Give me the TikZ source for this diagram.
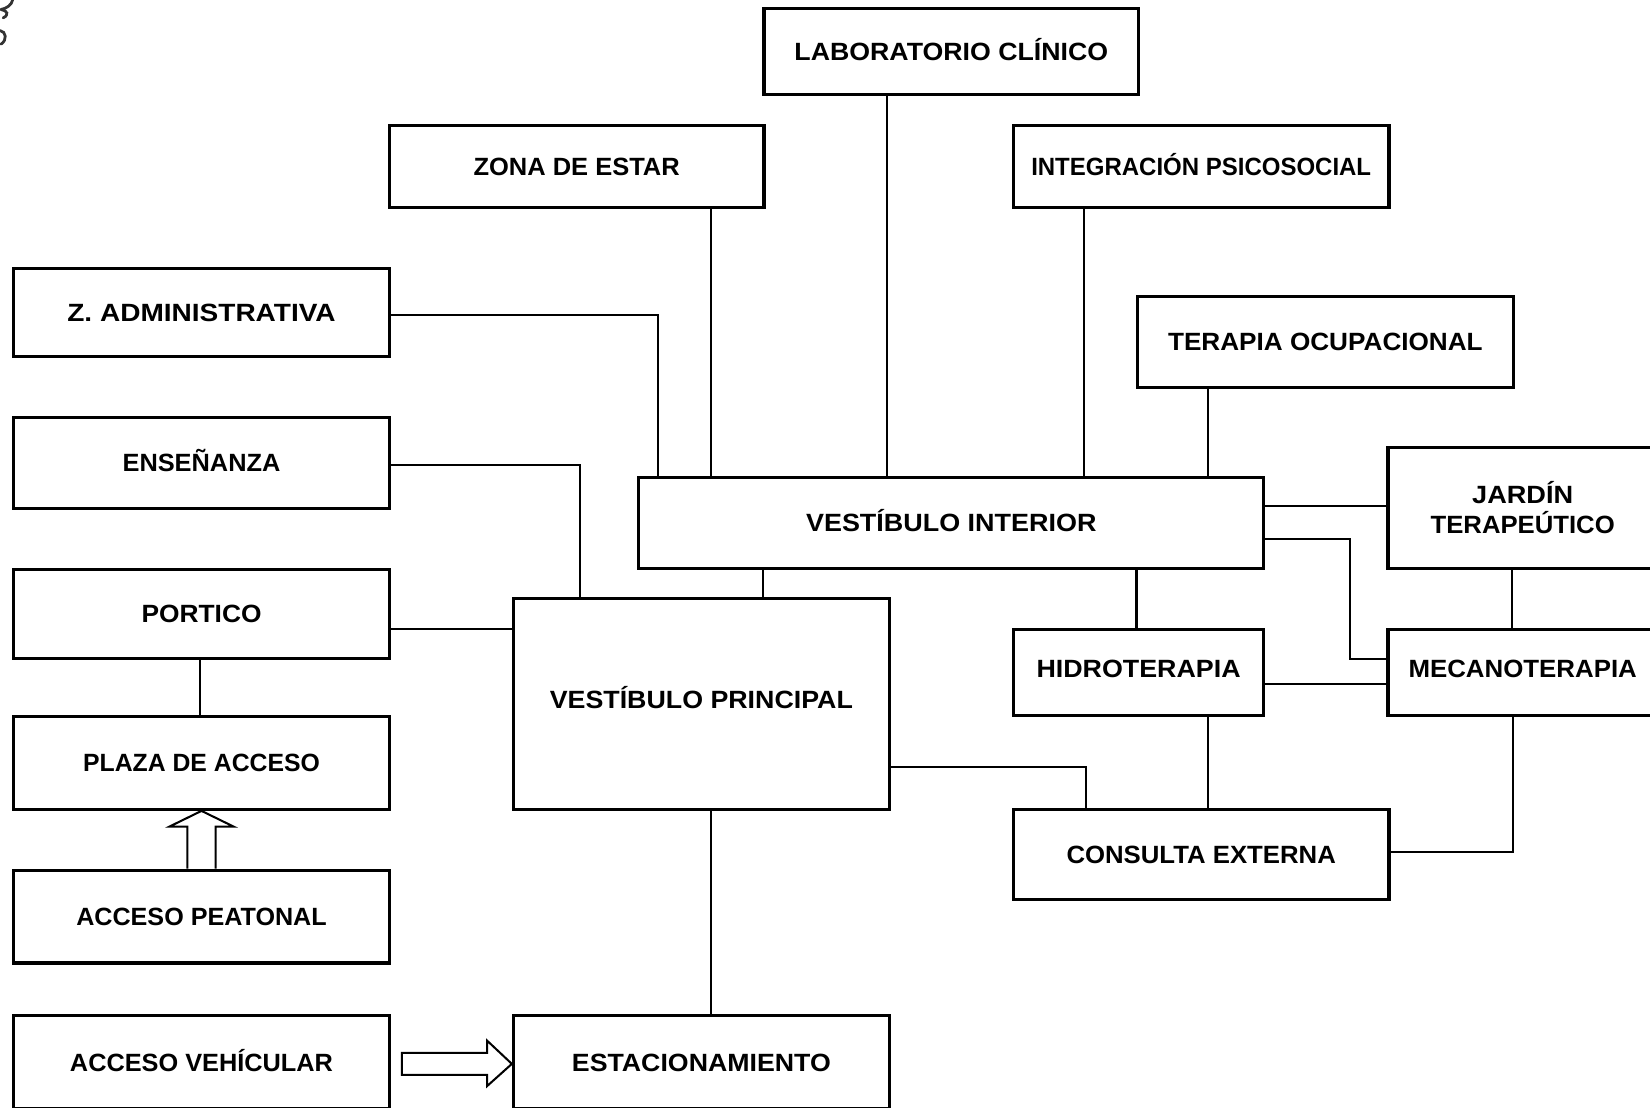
\documentclass[tikz,border=0pt]{standalone}
\usepackage{fontspec}
\setmainfont{Liberation Sans}
\usepackage{graphicx}
\newdimen\pxu \pxu=0.02cm
\newcommand\fw[2]{\resizebox{#1\pxu}{\height}{#2}}
\begin{document}
\begin{tikzpicture}[x=0.02cm,y=-0.02cm,
  box/.style={draw, line width=1.8pt, inner sep=0pt, text height=0.34cm, text depth=0pt,
    font=\fontsize{13.5}{16}\selectfont\bfseries},
  twoline/.style={draw, line width=1.8pt, inner sep=0pt, align=center,
    font=\fontsize{13.5}{16.4}\selectfont\bfseries},
  up4/.style={text depth=0.16cm},
  link/.style={line width=1.1pt},
  blockarrow/.style={line width=1.1pt, fill=white},
  scan/.style={line width=1.5pt, black!80, line cap=round}]
\useasboundingbox (0,0) rectangle (1568,1052);
\clip (0,0) rectangle (1568,1052);
% nodes
\node[box, minimum width=356\pxu, minimum height=82\pxu] (lab) at (904,49) {\fw{298}{LABORATORIO CLÍNICO}};
\node[box, minimum width=356\pxu, minimum height=78\pxu] (zona) at (548,158) {\fw{196}{ZONA DE ESTAR}};
\node[box, minimum width=357\pxu, minimum height=78\pxu] (integ) at (1141.5,158) {\fw{323}{INTEGRACIÓN PSICOSOCIAL}};
\node[box, minimum width=357\pxu, minimum height=84\pxu] (zadm) at (191.5,297) {\fw{255}{Z. ADMINISTRATIVA}};
\node[box, minimum width=357\pxu, minimum height=86\pxu] (tocup) at (1259.5,325) {\fw{299}{TERAPIA OCUPACIONAL}};
\node[box, minimum width=357\pxu, minimum height=86\pxu] (ens) at (191.5,440) {\fw{150}{ENSEÑANZA}};
\node[box, minimum width=594\pxu, minimum height=86\pxu] (vi) at (904,497) {\fw{276}{VESTÍBULO INTERIOR}};
\node[twoline, minimum width=256\pxu, minimum height=115\pxu] (jard) at (1447,482.5) {\fw{96}{JARDÍN}\\\fw{175}{TERAPEÚTICO}};
\node[box, minimum width=357\pxu, minimum height=85\pxu] (port) at (191.5,583.5) {\fw{114}{PORTICO}};
\node[box, up4, minimum width=238\pxu, minimum height=82\pxu] (hidro) at (1082,639) {\fw{194}{HIDROTERAPIA}};
\node[box, up4, minimum width=256\pxu, minimum height=82\pxu] (mec) at (1447,639) {\fw{217}{MECANOTERAPIA}};
\node[box, up4, minimum width=357\pxu, minimum height=200\pxu] (vp) at (666.5,669) {\fw{288}{VESTÍBULO PRINCIPAL}};
\node[box, minimum width=357\pxu, minimum height=88\pxu] (plaza) at (191.5,725) {\fw{225}{PLAZA DE ACCESO}};
\node[box, minimum width=357\pxu, minimum height=86\pxu] (cons) at (1141.5,812) {\fw{256}{CONSULTA EXTERNA}};
\node[box, minimum width=357\pxu, minimum height=88\pxu] (peat) at (191.5,871) {\fw{238}{ACCESO PEATONAL}};
\node[box, minimum width=357\pxu, minimum height=89\pxu] (veh) at (191.5,1009.5) {\fw{250}{ACCESO VEHÍCULAR}};
\node[box, minimum width=357\pxu, minimum height=89\pxu] (est) at (666.5,1009.5) {\fw{246}{ESTACIONAMIENTO}};
% connectors
\draw[link] (843,0 |- lab.south) -- (843,0 |- vi.north);
\draw[link] (676,0 |- zona.south) -- (676,0 |- vi.north);
\draw[link] (1030,0 |- integ.south) -- (1030,0 |- vi.north);
\draw[link] (1148,0 |- tocup.south) -- (1148,0 |- vi.north);
\draw[link] (zadm.east |- 0,299) -| (625,0 |- vi.north);
\draw[link] (ens.east |- 0,442) -| (551,0 |- vp.north);
\draw[link] (port.east |- 0,598) -- (vp.west |- 0,598);
\draw[link] (190,0 |- port.south) -- (190,0 |- plaza.north);
\draw[link] (676,0 |- vp.south) -- (676,0 |- est.north);
\draw[link] (725,0 |- vi.south) -- (725,0 |- vp.north);
\draw[link] (1080,0 |- vi.south) -- (1080,0 |- hidro.north);
\draw[link] (vi.east |- 0,481) -- (jard.west |- 0,481);
\draw[link] (vi.east |- 0,512) -| (1283,626) -- (mec.west |- 0,626);
\draw[link] (1437,0 |- jard.south) -- (1437,0 |- mec.north);
\draw[link] (hidro.east |- 0,650) -- (mec.west |- 0,650);
\draw[link] (1148,0 |- hidro.south) -- (1148,0 |- cons.north);
\draw[link] (1438,0 |- mec.south) |- (cons.east |- 0,810);
\draw[link] (vp.east |- 0,729) -| (1032,0 |- cons.north);
% block arrows
\draw[blockarrow] (178,0 |- peat.north) -- (178,785.5) -- (161,785.5) -- (191.5,0 |- plaza.south)
  -- (222,785.5) -- (205,785.5) -- (205,0 |- peat.north);
\draw[blockarrow] (463,1000.5) -- (382,1000.5) -- (382,1021.5) -- (463,1021.5) -- (463,1032)
  -- (est.west |- 0,1011) -- (463,989) -- cycle;
% scan mark in the corner
\draw[scan] (12,0) .. controls (11,5) and (6,8) .. (1,9);
\draw[scan] (1,9) .. controls (7,10) and (9,14) .. (3,17);
\draw[scan] (0,29) .. controls (6,30) and (7,38) .. (1,42);
\end{tikzpicture}
\end{document}
